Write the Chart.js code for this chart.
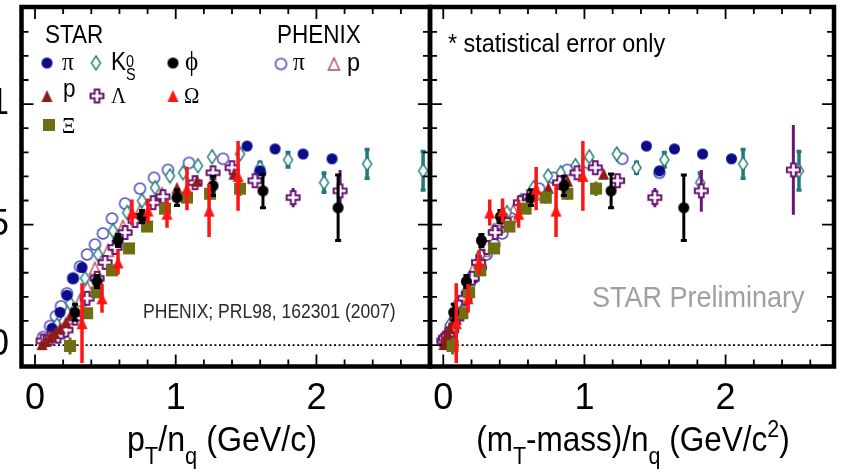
<!DOCTYPE html>
<html>
<head>
<meta charset="utf-8">
<script src="https://cdn.jsdelivr.net/npm/chart.js@4.4.0/dist/chart.umd.min.js"></script>
<style>
  html, body { margin: 0; padding: 0; background: #fff; overflow: hidden; }
  #wrap { position: relative; width: 841px; height: 475px; }
  #left { position: absolute; left: 0; top: 0; }
  #right { position: absolute; left: 420px; top: 0; }
</style>
</head>
<body>
<div id="wrap">
  <canvas id="left" width="440" height="475"></canvas>
  <canvas id="right" width="421" height="475"></canvas>
</div>
<script>
// v2/nq of identified hadrons, vs pT/nq (left) and (mT-m)/nq (right)

// PHENIX pions
const pionPhxPt  = [0.057, 0.107, 0.149, 0.185, 0.227, 0.270, 0.320, 0.370, 0.426, 0.483, 0.547, 0.640, 0.746, 0.846, 0.945, 1.094, 1.336, 1.599];
const pionPhxKet = [0.020, 0.058, 0.095, 0.128, 0.168, 0.209, 0.258, 0.307, 0.362, 0.418, 0.482, 0.574, 0.679, 0.779, 0.878, 1.026, 1.268, 1.531];
const pionPhxV2  = [0.0033, 0.0079, 0.0120, 0.0161, 0.0215, 0.0277, 0.0326, 0.0376, 0.0417, 0.0463, 0.0525, 0.0587, 0.0649, 0.0694, 0.0727, 0.0756, 0.0773, 0.0715];

// STAR pions
const pionPt  = [0.121, 0.178, 0.227, 0.270, 0.334, 1.507, 1.599, 1.706, 1.905, 2.111];
const pionKet = [0.070, 0.121, 0.168, 0.209, 0.271, 1.439, 1.531, 1.638, 1.837, 2.042];
const pionV2  = [0.0070, 0.0136, 0.0207, 0.0277, 0.0322, 0.0826, 0.0723, 0.0814, 0.0793, 0.0773];
const pionErr = [0, 0, 0, 0, 0, 0, 0.0020, 0, 0, 0];

// STAR K0s
const k0Pt  = [0.156, 0.249, 0.355, 0.448, 0.554, 0.654, 0.760, 0.853, 0.959, 1.052, 1.158, 1.258, 1.457, 1.599, 1.798, 2.054, 2.360, 2.758];
const k0Ket = [0.045, 0.103, 0.185, 0.264, 0.359, 0.451, 0.551, 0.640, 0.742, 0.832, 0.936, 1.034, 1.229, 1.369, 1.566, 1.820, 2.124, 2.520];
const k0V2  = [0.0083, 0.0174, 0.0277, 0.0376, 0.0475, 0.0550, 0.0599, 0.0653, 0.0702, 0.0715, 0.0744, 0.0781, 0.0793, 0.0736, 0.0769, 0.0674, 0.0752, 0.0723];
const k0Err = [0, 0, 0, 0, 0, 0, 0, 0, 0, 0, 0, 0, 0.0012, 0.0023, 0.0030, 0.0040, 0.0060, 0.0080];

// STAR protons
const protonPt  = [0.050, 0.078, 0.107, 0.142, 0.178, 0.220, 0.263, 1.009, 1.151, 1.414];
const protonKet = [0.004, 0.010, 0.018, 0.031, 0.047, 0.070, 0.096, 0.744, 0.880, 1.136];
const protonV2  = [0.0004, 0.0017, 0.0033, 0.0050, 0.0070, 0.0095, 0.0128, 0.0653, 0.0682, 0.0711];

// PHENIX protons
const protonPhxPt  = [0.249, 0.320, 0.370, 0.426, 0.519, 0.625, 0.746, 0.903];
const protonPhxKet = [0.087, 0.135, 0.172, 0.216, 0.293, 0.386, 0.496, 0.643];
const protonPhxV2  = [0.0112, 0.0186, 0.0240, 0.0318, 0.0393, 0.0492, 0.0558, 0.0628];

// STAR Lambda
const lambdaPt  = [0.057, 0.107, 0.163, 0.220, 0.284, 0.370, 0.441, 0.498, 0.569, 0.640, 0.711, 0.839, 0.910, 1.137, 1.265, 1.400, 1.563, 1.834, 2.168, 2.870];
const lambdaKet = [0.004, 0.015, 0.034, 0.060, 0.096, 0.153, 0.205, 0.250, 0.308, 0.368, 0.431, 0.546, 0.611, 0.824, 0.947, 1.077, 1.235, 1.499, 1.828, 2.480];
const lambdaV2  = [0.0017, 0.0029, 0.0037, 0.0062, 0.0112, 0.0194, 0.0277, 0.0343, 0.0405, 0.0467, 0.0517, 0.0591, 0.0616, 0.0674, 0.0715, 0.0736, 0.0682, 0.0612, 0.0640, 0.0727];
const lambdaErr = [0, 0, 0, 0, 0, 0, 0, 0, 0, 0, 0, 0, 0, 0, 0, 0, 0.0017, 0.0040, 0.0087, 0.0186];

// STAR phi
const phiPt  = [0.284, 0.441, 0.590, 0.760, 1.009, 1.265, 1.620, 2.154];
const phiKet = [0.074, 0.164, 0.270, 0.405, 0.621, 0.854, 1.189, 1.704];
const phiV2  = [0.0136, 0.0264, 0.0434, 0.0533, 0.0612, 0.0661, 0.0640, 0.0570];
const phiErr = [0.0033, 0.0025, 0.0025, 0.0025, 0.0033, 0.0040, 0.0070, 0.0136];

// STAR Omega
const omegaPt  = [0.334, 0.476, 0.590, 0.689, 0.803, 0.938, 1.080, 1.237, 1.443];
const omegaKet = [0.092, 0.176, 0.254, 0.329, 0.420, 0.534, 0.658, 0.799, 0.989];
const omegaV2  = [0.0091, 0.0194, 0.0343, 0.0550, 0.0558, 0.0545, 0.0649, 0.0558, 0.0702];
const omegaErr = [0.0165, 0.0060, 0.0050, 0.0054, 0.0050, 0.0058, 0.0090, 0.0110, 0.0145];

// STAR Xi
const xiPt  = [0.249, 0.370, 0.441, 0.547, 0.668, 0.796, 0.924, 1.080, 1.244, 1.457];
const xiKet = [0.066, 0.135, 0.183, 0.262, 0.360, 0.469, 0.583, 0.726, 0.879, 1.082];
const xiV2  = [-0.0004, 0.0132, 0.0219, 0.0310, 0.0401, 0.0492, 0.0566, 0.0612, 0.0628, 0.0649];
const xiErr = [0.0035, 0.0020, 0.0020, 0.0020, 0.0020, 0.0020, 0.0020, 0.0025, 0.0025, 0.0030];

const xTickValues = [0, 1, 2];
const xTickLabels = ['0', '1', '2'];
const yTickValues = [0, 0.05, 0.1];
const yTickLabels = ['0', '0.05', '0.1'];
const zeroLineX = [0, 2.9];

const yMin = -0.0089, yMax = 0.1403;

const sans = "'Liberation Sans', Arial, sans-serif";
const serif = "'Liberation Serif', 'Times New Roman', serif";

// ---- marker images ----
function markerCanvas(w, h, paint) {
  const c = document.createElement('canvas');
  c.width = w; c.height = h;
  paint(c.getContext('2d'), w / 2, h / 2);
  return c;
}
function dot(color, r) {
  return markerCanvas(2 * r + 2, 2 * r + 2, (g, cx, cy) => {
    g.fillStyle = color; g.beginPath(); g.arc(cx, cy, r, 0, Math.PI * 2); g.fill();
  });
}
function ring(color, r, lw) {
  return markerCanvas(2 * r + 4, 2 * r + 4, (g, cx, cy) => {
    g.strokeStyle = color; g.lineWidth = lw; g.beginPath(); g.arc(cx, cy, r, 0, Math.PI * 2); g.stroke();
  });
}
function diamond(color, hw, hh, lw) {
  return markerCanvas(2 * hw + 4, 2 * hh + 4, (g, cx, cy) => {
    g.beginPath();
    g.moveTo(cx, cy - hh); g.lineTo(cx + hw, cy); g.lineTo(cx, cy + hh); g.lineTo(cx - hw, cy); g.closePath();
    g.fillStyle = '#fff'; g.fill();
    g.strokeStyle = color; g.lineWidth = lw; g.stroke();
  });
}
function triangle(color, hw, hh, filled, lw) {
  return markerCanvas(2 * hw + 4, 2 * hh + 4, (g, cx, cy) => {
    g.beginPath();
    g.moveTo(cx, cy - hh); g.lineTo(cx + hw, cy + hh); g.lineTo(cx - hw, cy + hh); g.closePath();
    if (filled) { g.fillStyle = color; g.fill(); }
    else { g.strokeStyle = color; g.lineWidth = lw; g.stroke(); }
  });
}
function plus(color, s, a, lw) {
  return markerCanvas(2 * s + 4, 2 * s + 4, (g, cx, cy) => {
    const p = [[-a, -s], [a, -s], [a, -a], [s, -a], [s, a], [a, a], [a, s], [-a, s], [-a, a], [-s, a], [-s, -a], [-a, -a]];
    g.beginPath();
    p.forEach(([x, y], i) => i ? g.lineTo(cx + x, cy + y) : g.moveTo(cx + x, cy + y));
    g.closePath();
    g.fillStyle = '#fff'; g.fill();
    g.strokeStyle = color; g.lineWidth = lw; g.stroke();
  });
}
function square(color, s) {
  return markerCanvas(s + 2, s + 2, (g, cx, cy) => {
    g.fillStyle = color; g.fillRect(cx - s / 2, cy - s / 2, s, s);
  });
}

const colors = {
  pion: '#0b0b8c', pionPhx: '#4a4ab8', k0: '#1f7a7a', phi: '#000000',
  proton: '#8e1b1b', protonPhx: '#b34a4a', lambda: '#6b1574', omega: '#ff1414', xi: '#6e6e12'
};
const marks = {
  pion: dot(colors.pion, 5.5),
  pionPhx: ring(colors.pionPhx, 5.5, 1.5),
  k0: diamond(colors.k0, 4.5, 7, 1.4),
  phi: dot(colors.phi, 5.5),
  proton: triangle(colors.proton, 5.5, 6, true),
  protonPhx: triangle(colors.protonPhx, 5.5, 6, false, 1.4),
  lambda: plus(colors.lambda, 6.5, 2.3, 2),
  omega: triangle(colors.omega, 5.5, 6, true),
  xi: square(colors.xi, 12)
};

// drawn top-most first (chart.js paints dataset 0 last)
const species = [
  { key: 'omega', pt: omegaPt, ket: omegaKet, v2: omegaV2, err: omegaErr, errWidth: 3.5, cap: 0 },
  { key: 'phi', pt: phiPt, ket: phiKet, v2: phiV2, err: phiErr, errWidth: 3, cap: 3 },
  { key: 'xi', pt: xiPt, ket: xiKet, v2: xiV2, err: xiErr, errWidth: 3, cap: 0 },
  { key: 'proton', pt: protonPt, ket: protonKet, v2: protonV2, err: null },
  { key: 'lambda', pt: lambdaPt, ket: lambdaKet, v2: lambdaV2, err: lambdaErr, errWidth: 3, cap: 0 },
  { key: 'pion', pt: pionPt, ket: pionKet, v2: pionV2, err: pionErr, errWidth: 2.5, cap: 0 },
  { key: 'k0', pt: k0Pt, ket: k0Ket, v2: k0V2, err: k0Err, errWidth: 3.5, cap: 2.5 },
  { key: 'protonPhx', pt: protonPhxPt, ket: protonPhxKet, v2: protonPhxV2, err: null },
  { key: 'pionPhx', pt: pionPhxPt, ket: pionPhxKet, v2: pionPhxV2, err: null }
];

function buildDatasets(xKey) {
  const sets = species.map(s => ({
    label: s.key,
    data: s[xKey].map((x, i) => ({ x: x, y: s.v2[i] })),
    pointStyle: marks[s.key],
    pointRadius: 6,
    clip: 0,
    err: s.err, errColor: colors[s.key], errWidth: s.errWidth, errCap: s.cap
  }));
  sets.push({
    type: 'line', label: 'zero',
    data: zeroLineX.map(x => ({ x: x, y: 0 })),
    borderColor: '#000', borderWidth: 1.8, borderDash: [2, 2.6],
    pointRadius: 0, clip: 0
  });
  return sets;
}

// ---- plugins ----
const errorBars = {
  id: 'errorBars',
  beforeDatasetDraw(chart, args) {
    const ds = chart.data.datasets[args.index];
    if (!ds.err) return;
    const { ctx, chartArea: a } = chart;
    const y = chart.scales.y;
    ctx.save();
    ctx.beginPath(); ctx.rect(a.left, a.top, a.right - a.left, a.bottom - a.top); ctx.clip();
    ctx.strokeStyle = ds.errColor; ctx.lineWidth = ds.errWidth;
    args.meta.data.forEach((pt, i) => {
      const e = ds.err[i];
      if (!e) return;
      const v = ds.data[i].y;
      const top = y.getPixelForValue(v + e), bot = y.getPixelForValue(v - e);
      ctx.beginPath();
      ctx.moveTo(pt.x, top); ctx.lineTo(pt.x, bot);
      if (ds.errCap) {
        ctx.moveTo(pt.x - ds.errCap, top); ctx.lineTo(pt.x + ds.errCap, top);
        ctx.moveTo(pt.x - ds.errCap, bot); ctx.lineTo(pt.x + ds.errCap, bot);
      }
      ctx.stroke();
    });
    ctx.restore();
  }
};

// thick box with inward ticks on all four sides
const frame = {
  id: 'frame',
  afterDraw(chart) {
    const { ctx, chartArea: a } = chart;
    const x = chart.scales.x, y = chart.scales.y;
    ctx.save();
    ctx.strokeStyle = '#000';
    ctx.lineWidth = 1.8;
    ctx.beginPath();
    for (let i = Math.ceil(x.min * 5); i <= Math.floor(x.max * 5); i++) {
      const px = x.getPixelForValue(i / 5);
      const len = i % 5 === 0 ? 12 : 7;
      ctx.moveTo(px, a.bottom); ctx.lineTo(px, a.bottom - len);
      ctx.moveTo(px, a.top); ctx.lineTo(px, a.top + len);
    }
    for (let j = Math.ceil(y.min * 100); j <= Math.floor(y.max * 100); j++) {
      const py = y.getPixelForValue(j / 100);
      const len = j % 5 === 0 ? 12 : 7;
      ctx.moveTo(a.left, py); ctx.lineTo(a.left + len, py);
      ctx.moveTo(a.right, py); ctx.lineTo(a.right - len, py);
    }
    ctx.stroke();
    ctx.lineWidth = 4.5;
    ctx.strokeRect(a.left, a.top, a.right - a.left, a.bottom - a.top);
    ctx.restore();
  }
};

// text runs with sub/superscripts, slightly condensed
function drawRich(ctx, parts, x, base, size, opt) {
  opt = opt || {};
  const squeeze = opt.squeeze || 0.9;
  ctx.save();
  ctx.fillStyle = opt.color || '#000';
  ctx.textBaseline = 'alphabetic';
  ctx.textAlign = 'left';
  const run = [];
  let w = 0;
  parts.forEach(p => {
    const q = typeof p === 'string' ? { t: p } : p;
    const fs = q.size || (q.sub || q.sup ? size * 0.68 : size);
    const font = fs + 'px ' + (q.serif || opt.serif ? serif : sans);
    ctx.font = font;
    const dy = q.dy !== undefined ? q.dy : q.sub ? size * 0.36 : q.sup ? -size * 0.4 : 0;
    run.push({ t: q.t, font: font, x: w, dy: dy });
    if (!q.stack) w += ctx.measureText(q.t).width;
  });
  const x0 = opt.center ? x - w * squeeze / 2 : x;
  ctx.translate(x0, base);
  ctx.scale(squeeze, 1);
  run.forEach(r => { ctx.font = r.font; ctx.fillText(r.t, r.x, r.dy); });
  ctx.restore();
}
function stamp(ctx, img, x, y) {
  ctx.drawImage(img, x - img.width / 2, y - img.height / 2);
}

const leftNotes = {
  id: 'leftNotes',
  afterDraw(chart) {
    const ctx = chart.ctx;
    // legend, STAR block
    drawRich(ctx, ['STAR'], 45, 43, 25);
    stamp(ctx, marks.pion, 47, 63);
    drawRich(ctx, [{ t: 'π', serif: true }], 62, 70, 26);
    stamp(ctx, marks.k0, 96, 63);
    drawRich(ctx, ['K', { t: '0', sup: true, stack: true, dy: -3, size: 16 }, { t: 'S', sub: true, dy: 10, size: 16 }], 111, 70, 25);
    stamp(ctx, marks.phi, 173, 63);
    drawRich(ctx, [{ t: 'ϕ', serif: true }], 185, 70, 28);
    stamp(ctx, marks.proton, 47, 96);
    drawRich(ctx, ['p'], 63, 97, 25);
    stamp(ctx, marks.lambda, 97, 96);
    drawRich(ctx, [{ t: 'Λ', serif: true }], 111, 103, 23);
    stamp(ctx, marks.omega, 173, 96);
    drawRich(ctx, [{ t: 'Ω', serif: true }], 184, 103, 23);
    stamp(ctx, marks.xi, 49, 125);
    drawRich(ctx, [{ t: 'Ξ', serif: true }], 62, 133, 23);
    // legend, PHENIX block
    drawRich(ctx, ['PHENIX'], 277, 43, 25);
    stamp(ctx, marks.pionPhx, 281, 64);
    drawRich(ctx, [{ t: 'π', serif: true }], 293, 70, 26);
    stamp(ctx, marks.protonPhx, 334, 64);
    drawRich(ctx, ['p'], 347, 71, 26);
    drawRich(ctx, ['PHENIX; PRL98, 162301 (2007)'], 143, 318, 19.5, { color: '#2a2a2a' });
    // x title
    drawRich(ctx, ['p', { t: 'T', sub: true }, '/n', { t: 'q', sub: true }, ' (GeV/c)'], 222, 451, 35, { center: true, squeeze: 0.92 });
  }
};

const rightNotes = {
  id: 'rightNotes',
  afterDraw(chart) {
    const ctx = chart.ctx;
    ctx.save();
    ctx.translate(-420, 0);
    drawRich(ctx, ['* statistical error only'], 448, 52, 26);
    drawRich(ctx, ['STAR Preliminary'], 592, 307, 30, { color: '#a0a0a0' });
    drawRich(ctx, ['(m', { t: 'T', sub: true }, '-mass)/n', { t: 'q', sub: true }, ' (GeV/c', { t: '2', sup: true }, ')'], 633, 451, 35, { center: true, squeeze: 0.9 });
    ctx.restore();
  }
};

function makePanel(id, xKey, xMin, xMax, padding, showY, notes) {
  return new Chart(document.getElementById(id), {
    type: 'scatter',
    data: { datasets: buildDatasets(xKey) },
    options: {
      responsive: false,
      animation: false,
      events: [],
      layout: { padding: padding },
      plugins: { legend: { display: false }, tooltip: { enabled: false } },
      scales: {
        x: {
          type: 'linear', min: xMin, max: xMax,
          grid: { display: false, drawTicks: false }, border: { display: false },
          afterBuildTicks: s => { s.ticks = xTickValues.map(v => ({ value: v })); },
          afterFit: s => { s.height = 108.5; s.paddingLeft = 0; s.paddingRight = 0; },
          ticks: {
            color: '#000', padding: 11, maxRotation: 0, autoSkip: false,
            font: { family: sans, size: 36 },
            callback: (v, i) => xTickLabels[i]
          }
        },
        y: {
          type: 'linear', min: yMin, max: yMax, display: showY,
          grid: { display: false, drawTicks: false }, border: { display: false },
          afterBuildTicks: s => { s.ticks = yTickValues.map(v => ({ value: v })); },
          afterFit: s => {
            s.width = showY ? 21.5 : 0;
            s.paddingTop = 0; s.paddingBottom = 0;
          },
          ticks: {
            color: '#000', padding: 12.5, autoSkip: false,
            font: { family: sans, size: 36 },
            callback: (v, i) => yTickLabels[i]
          }
        }
      }
    },
    plugins: [errorBars, frame, notes]
  });
}

makePanel('left', 'pt', -0.096, 2.807, { left: 0, top: 5.5, right: 10, bottom: 0 }, true, leftNotes);
makePanel('right', 'ket', -0.094, 2.768, { left: 10, top: 5.5, right: 5.5, bottom: 0 }, false, rightNotes);
</script>
</body>
</html>
